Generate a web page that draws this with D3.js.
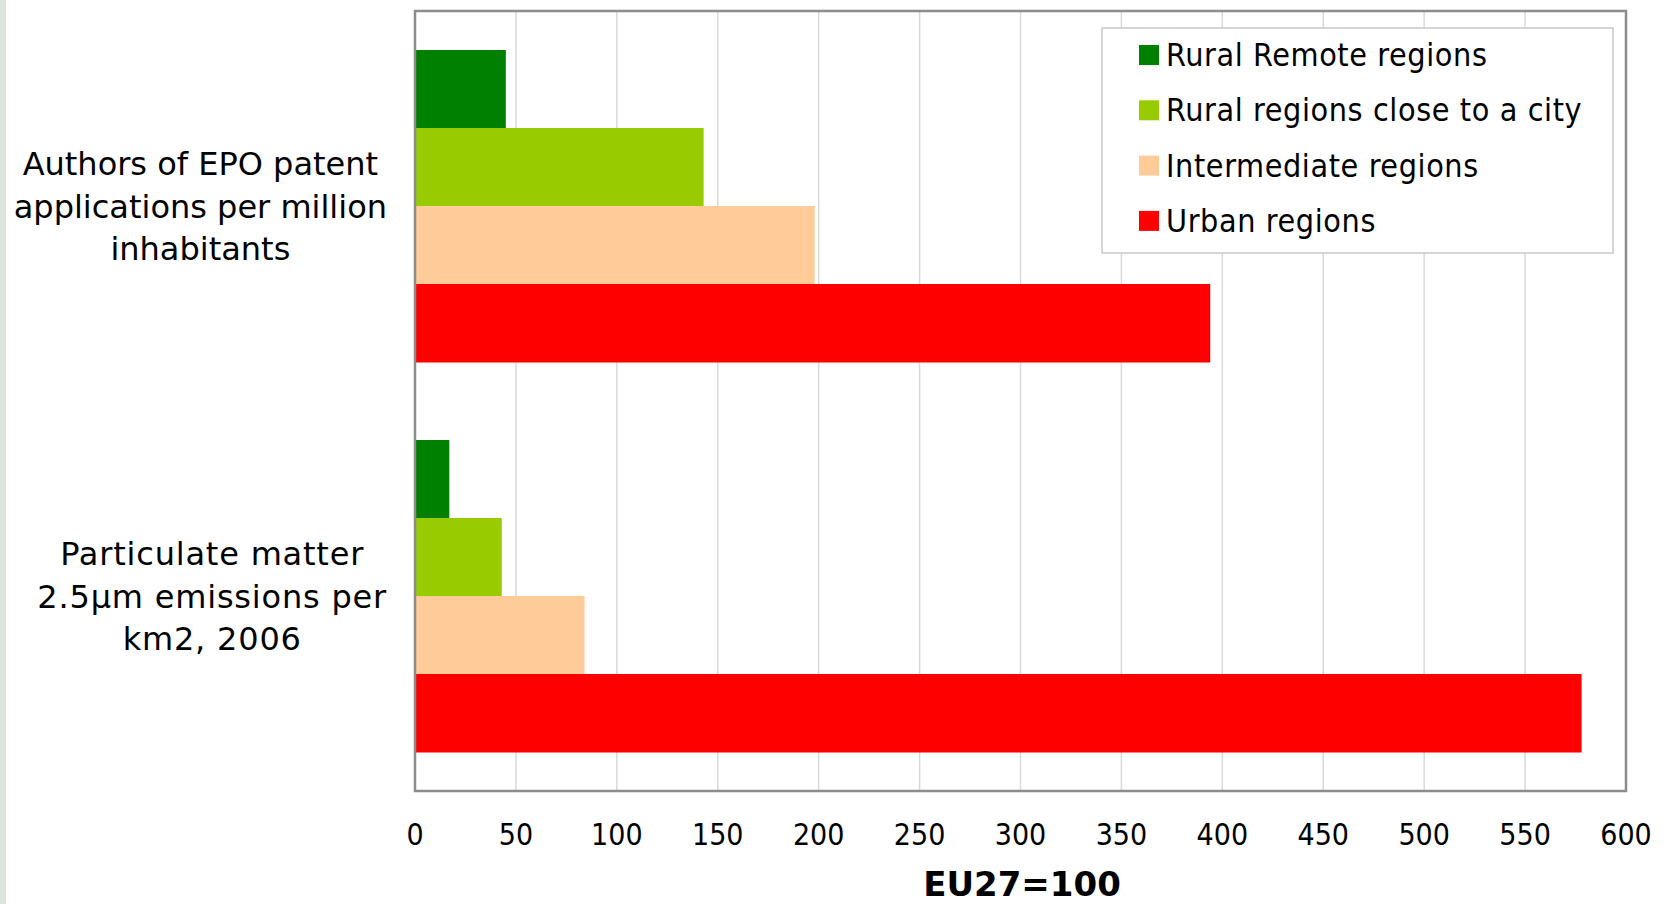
<!DOCTYPE html>
<html>
<head>
<meta charset="utf-8">
<script src="https://cdn.jsdelivr.net/npm/d3@7"></script>
<style>
  body { margin: 0; background: #fff; }
  svg { display: block; }
</style>
</head>
<body>
<div id="chart"></div>
<script>
const categories = [
    ["Authors of EPO patent", "applications per million", "inhabitants"],
    ["Particulate matter", "2.5\u00b5m emissions per", "km2, 2006"]
];
const seriesNames = ["Rural Remote regions", "Rural regions close to a city", "Intermediate regions", "Urban regions"];
const seriesColors = ["#008000", "#99cc00", "#ffcc99", "#ff0000"];
const patentValues = [45, 143, 198, 394];
const pmValues = [17, 43, 84, 578];
const xTicks = [0, 50, 100, 150, 200, 250, 300, 350, 400, 450, 500, 550, 600];

const W = 1664, H = 904;
const plotLeft = 415, plotRight = 1626, plotTop = 11, plotBottom = 791;

const svg = d3.select("#chart").append("svg")
    .attr("width", W).attr("height", H);

// faint strip of the slide background at the left edge
svg.append("rect").attr("x", 0).attr("y", 0).attr("width", 6).attr("height", H)
    .attr("fill", "#dde3da");

const x = d3.scaleLinear().domain([0, 600]).range([plotLeft, plotRight]);
const y = d3.scaleBand().domain([0, 1]).range([plotTop, plotBottom])
    .paddingInner(0.2).paddingOuter(0.1);
const ySub = d3.scaleBand().domain(d3.range(seriesNames.length)).range([0, y.bandwidth()]);

// gridlines
svg.append("g").selectAll("line").data(xTicks.slice(1, -1)).enter().append("line")
    .attr("x1", d => x(d)).attr("x2", d => x(d))
    .attr("y1", plotTop).attr("y2", plotBottom)
    .attr("stroke", "#d9d9d9").attr("stroke-width", 1.5);

const rows = [patentValues, pmValues];
rows.forEach((vals, ci) => {
    svg.append("g").selectAll("rect").data(vals).enter().append("rect")
        .attr("x", x(0))
        .attr("y", (d, i) => y(ci) + ySub(i))
        .attr("width", d => x(d) - x(0))
        .attr("height", ySub.bandwidth() + 0.5)
        .attr("fill", (d, i) => seriesColors[i]);
});

// plot border
svg.append("rect").attr("x", plotLeft).attr("y", plotTop)
    .attr("width", plotRight - plotLeft).attr("height", plotBottom - plotTop)
    .attr("fill", "none").attr("stroke", "#8c8c8c").attr("stroke-width", 2.5);

// x tick labels
svg.append("g").selectAll("text").data(xTicks).enter().append("text")
    .attr("x", d => x(d)).attr("y", 845)
    .attr("text-anchor", "middle")
    .style("font-family", "'DejaVu Sans Condensed', 'DejaVu Sans', sans-serif")
    .style("font-size", "30px").style("fill", "#000")
    .text(d => d);

svg.append("text").attr("x", 1022).attr("y", 896)
    .attr("text-anchor", "middle")
    .style("font-family", "'DejaVu Sans', sans-serif")
    .style("font-weight", "bold").style("font-size", "34px")
    .text("EU27=100");

// category labels, lines centred within a block right-aligned near the axis
categories.forEach((lines, ci) => {
    const g = svg.append("g");
    const cy = y(ci) + y.bandwidth() / 2;
    const lh = 42.6;
    const texts = g.selectAll("text").data(lines).enter().append("text")
        .attr("y", (d, i) => cy + (i - 1) * lh + 11.5)
        .attr("text-anchor", "middle")
        .style("font-family", "'DejaVu Sans', sans-serif")
        .style("font-size", "32px")
        .style("letter-spacing", ci === 1 ? "0.8px" : "0px")
        .text(d => d);
    let maxW = 0;
    texts.each(function () { maxW = Math.max(maxW, this.getComputedTextLength()); });
    texts.attr("x", 387 - maxW / 2);
});

// legend
const lg = svg.append("g");
lg.append("rect").attr("x", 1102).attr("y", 28).attr("width", 511).attr("height", 225)
    .attr("fill", "#fff").attr("stroke", "#c8c8c8").attr("stroke-width", 1.5);
seriesNames.forEach((name, i) => {
    const cy = 55 + i * 55.3;
    lg.append("rect").attr("x", 1139).attr("y", cy - 10).attr("width", 20).attr("height", 20)
        .attr("fill", seriesColors[i]);
    lg.append("text").attr("x", 1166).attr("y", cy + 11)
        .style("font-family", "'DejaVu Sans Condensed', 'DejaVu Sans', sans-serif")
        .style("font-size", "32px")
        .style("letter-spacing", "0.6px")
        .text(name);
});
</script>
</body>
</html>
